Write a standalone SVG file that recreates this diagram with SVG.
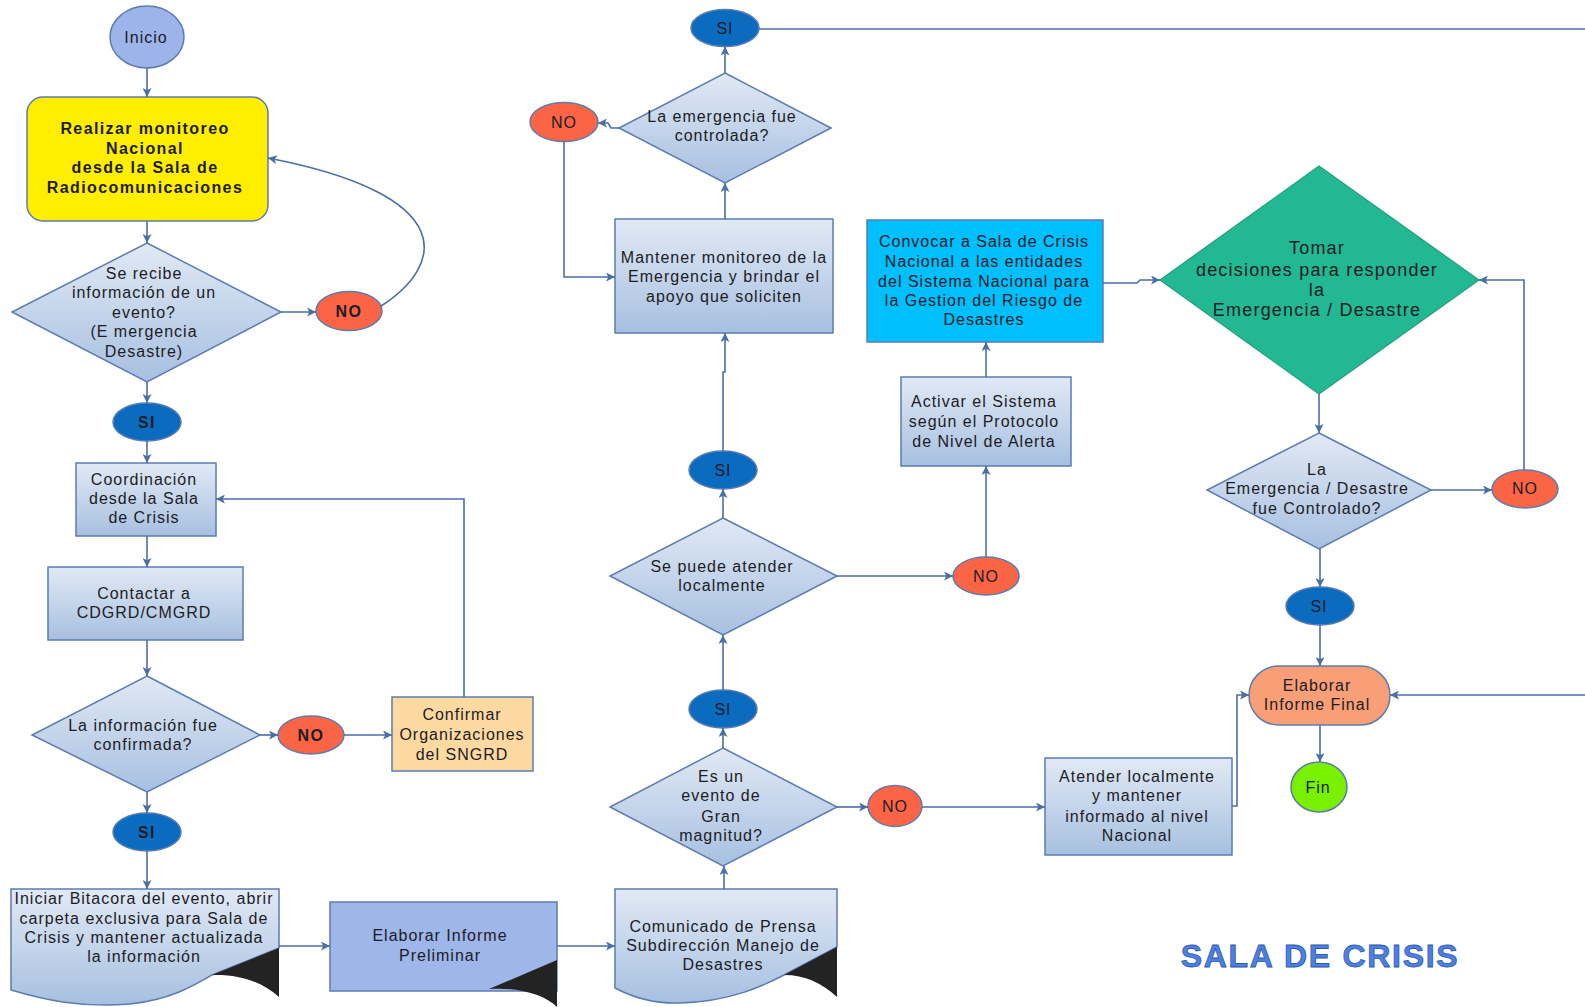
<svg xmlns="http://www.w3.org/2000/svg" width="1585" height="1007" viewBox="0 0 1585 1007">
<defs>
<linearGradient id="g" x1="0" y1="0" x2="0" y2="1">
<stop offset="0" stop-color="#e1e9f5"/>
<stop offset="1" stop-color="#a7c0e0"/>
</linearGradient>
<marker id="a" viewBox="0 0 10 10" refX="10" refY="5" markerWidth="9" markerHeight="9" markerUnits="userSpaceOnUse" orient="auto">
<path d="M0,0 L10,5 L0,10 L2.5,5 z" fill="#4a6fa6"/>
</marker>
<style>
.n{stroke:#5b7cb0;stroke-width:1.5}
.p{fill:url(#g)}
.t{font-family:"Liberation Sans",Arial,sans-serif;font-size:16px;fill:#1c1c24;text-anchor:middle;letter-spacing:1px}
.b{font-weight:bold;letter-spacing:1.4px}
.no{fill:#fc6446}
.si{fill:#0b6cbf}
.bk{fill:#232323}
.c{fill:none;stroke:#4a6fa6;stroke-width:1.6}
.ar{marker-end:url(#a)}
</style>
</defs>

<g id="inicio">
<ellipse class="n" cx="147" cy="37" rx="37" ry="31" fill="#9db4ea"/>
<text class="t" x="146" y="43">Inicio</text>
</g>

<g id="monitoreo">
<rect class="n" x="27" y="97" width="241" height="124" rx="16" fill="#ffee00"/>
<text class="t b" x="145" y="134">Realizar monitoreo</text>
<text class="t b" x="145" y="153.5">Nacional</text>
<text class="t b" x="145" y="173">desde la Sala de</text>
<text class="t b" x="145" y="192.5">Radiocomunicaciones</text>
</g>

<g id="recibe">
<polygon class="n p" points="147,243 281,312 147,382 12,312"/>
<text class="t" x="144" y="278.5">Se recibe</text>
<text class="t" x="144" y="297.5">información de un</text>
<text class="t" x="144" y="317.5">evento?</text>
<text class="t" x="144" y="337">(E mergencia</text>
<text class="t" x="144" y="356.5">Desastre)</text>
</g>

<g id="no1">
<ellipse class="n no" cx="349" cy="311" rx="33" ry="19.5"/>
<text class="t b" x="349" y="317">NO</text>
</g>

<g id="si1">
<ellipse class="n si" cx="147" cy="422" rx="34" ry="19"/>
<text class="t b" x="147" y="428">SI</text>
</g>

<g id="coordinacion">
<rect class="n p" x="76" y="463" width="140" height="73"/>
<text class="t" x="144" y="484.5">Coordinación</text>
<text class="t" x="144" y="504">desde la Sala</text>
<text class="t" x="144" y="523">de Crisis</text>
</g>

<g id="contactar">
<rect class="n p" x="48" y="567" width="195" height="73"/>
<text class="t" x="144" y="599">Contactar a</text>
<text class="t" x="144" y="617.5">CDGRD/CMGRD</text>
</g>

<g id="confirmada">
<polygon class="n p" points="147,676 260,735 147,792 32,735"/>
<text class="t" x="143" y="730.5">La información fue</text>
<text class="t" x="143" y="749.5">confirmada?</text>
</g>

<g id="no2">
<ellipse class="n no" cx="311" cy="735" rx="33" ry="19"/>
<text class="t b" x="311" y="741">NO</text>
</g>

<g id="confirmar">
<rect class="n" x="392" y="697" width="141" height="74" fill="#fdd9a2"/>
<text class="t" x="462" y="720">Confirmar</text>
<text class="t" x="462" y="740">Organizaciones</text>
<text class="t" x="462" y="759.5">del SNGRD</text>
</g>

<g id="si2">
<ellipse class="n si" cx="147" cy="832" rx="34" ry="19"/>
<text class="t b" x="147" y="838">SI</text>
</g>

<g id="bitacora">
<path class="n p" d="M11,889 H279 V948 L212,975 C195,985 170,1000 130,1004 C80,1008 45,1000 11,990 Z"/>
<path class="bk" d="M212,975 L279,948 V997 C262,982 240,974 212,975 Z"/>
<text class="t" x="144" y="904">Iniciar Bitacora del evento, abrir</text>
<text class="t" x="144" y="923.5">carpeta exclusiva para Sala de</text>
<text class="t" x="144" y="942.5">Crisis y mantener actualizada</text>
<text class="t" x="144" y="962">la información</text>
</g>

<g id="preliminar">
<rect class="n" x="330" y="902" width="227" height="89" fill="#9eb6ea"/>
<path class="bk" d="M489,989 L557,960 V1007 C545,995 520,987 489,989 Z"/>
<text class="t" x="440" y="940.5">Elaborar Informe</text>
<text class="t" x="440" y="961">Preliminar</text>
</g>

<g id="comunicado">
<path class="n p" d="M615,889 H837 V947 L784,975 C765,985 730,1002 680,1003 C650,1004 630,996 615,988 Z"/>
<path class="bk" d="M784,975 L837,947 V997 C822,983 805,975 784,975 Z"/>
<text class="t" x="723" y="931.5">Comunicado de Prensa</text>
<text class="t" x="723" y="950.5">Subdirección Manejo de</text>
<text class="t" x="723" y="970">Desastres</text>
</g>

<g id="gran">
<polygon class="n p" points="723,748 837,807 723,866 610,807"/>
<text class="t" x="721" y="781.5">Es un</text>
<text class="t" x="721" y="801">evento de</text>
<text class="t" x="721" y="821.5">Gran</text>
<text class="t" x="721" y="840.5">magnitud?</text>
</g>

<g id="no3">
<ellipse class="n no" cx="895" cy="806" rx="27" ry="20.5"/>
<text class="t" x="895" y="812">NO</text>
</g>

<g id="atender">
<rect class="n p" x="1045" y="758" width="187" height="97"/>
<text class="t" x="1137" y="781.5">Atender localmente</text>
<text class="t" x="1137" y="801">y mantener</text>
<text class="t" x="1137" y="821.5">informado al nivel</text>
<text class="t" x="1137" y="840.5">Nacional</text>
</g>

<g id="si3">
<ellipse class="n si" cx="723" cy="709" rx="34" ry="19"/>
<text class="t" x="723" y="715">SI</text>
</g>

<g id="localmente">
<polygon class="n p" points="723,518 837,576 723,635 610,576"/>
<text class="t" x="722" y="571.5">Se puede atender</text>
<text class="t" x="722" y="590.5">localmente</text>
</g>

<g id="no4">
<ellipse class="n no" cx="986" cy="576" rx="33" ry="19"/>
<text class="t" x="986" y="582">NO</text>
</g>

<g id="activar">
<rect class="n p" x="901" y="377" width="170" height="89"/>
<text class="t" x="984" y="406.5">Activar el Sistema</text>
<text class="t" x="984" y="427">según el Protocolo</text>
<text class="t" x="984" y="447">de Nivel de Alerta</text>
</g>

<g id="convocar">
<rect class="n" x="867" y="220" width="236" height="122" fill="#00bfff"/>
<text class="t" x="984" y="247">Convocar a Sala de Crisis</text>
<text class="t" x="984" y="266.5">Nacional a las entidades</text>
<text class="t" x="984" y="286.5">del Sistema Nacional para</text>
<text class="t" x="984" y="305.5">la Gestion del Riesgo de</text>
<text class="t" x="984" y="325">Desastres</text>
</g>

<g id="si4">
<ellipse class="n si" cx="723" cy="470" rx="34" ry="19"/>
<text class="t" x="723" y="476">SI</text>
</g>

<g id="mantener">
<rect class="n p" x="615" y="219" width="218" height="114"/>
<text class="t" x="724" y="262.5">Mantener monitoreo de la</text>
<text class="t" x="724" y="281.5">Emergencia y brindar el</text>
<text class="t" x="724" y="301.5">apoyo que soliciten</text>
</g>

<g id="controlada">
<polygon class="n p" points="725,73 831,128 725,183 619,128"/>
<text class="t" x="722" y="121.5">La emergencia fue</text>
<text class="t" x="722" y="141">controlada?</text>
</g>

<g id="no5">
<ellipse class="n no" cx="564" cy="122" rx="34" ry="19.5"/>
<text class="t" x="564" y="128">NO</text>
</g>

<g id="si5">
<ellipse class="n si" cx="725" cy="28" rx="34" ry="18.5"/>
<text class="t" x="725" y="34">SI</text>
</g>

<g id="decisiones">
<polygon points="1319,166 1479,280 1319,394 1160,280" fill="#21b892" stroke="#2a9d80" stroke-width="1.2"/>
<text class="t" x="1317" y="254" style="font-size:18px;letter-spacing:1.2px">Tomar</text>
<text class="t" x="1317" y="275.5" style="font-size:18px;letter-spacing:1.2px">decisiones para responder</text>
<text class="t" x="1317" y="295.5" style="font-size:18px;letter-spacing:1.2px">la</text>
<text class="t" x="1317" y="315.5" style="font-size:18px;letter-spacing:1.2px">Emergencia / Desastre</text>
</g>

<g id="controlado">
<polygon class="n p" points="1319,433 1431,490 1319,549 1207,490"/>
<text class="t" x="1317" y="474.5">La</text>
<text class="t" x="1317" y="493.5">Emergencia / Desastre</text>
<text class="t" x="1317" y="514">fue Controlado?</text>
</g>

<g id="no6">
<ellipse class="n no" cx="1525" cy="489" rx="33" ry="19"/>
<text class="t" x="1525" y="494">NO</text>
</g>

<g id="si6">
<ellipse class="n si" cx="1320" cy="606" rx="34" ry="19"/>
<text class="t" x="1319" y="612">SI</text>
</g>

<g id="informefinal">
<rect class="n" x="1249" y="666" width="141" height="59" rx="29.5" fill="#f99f78"/>
<text class="t" x="1317" y="690.5">Elaborar</text>
<text class="t" x="1317" y="710">Informe Final</text>
</g>

<g id="fin">
<ellipse class="n" cx="1319" cy="787" rx="28" ry="25" fill="#78f000"/>
<text class="t" x="1318" y="793">Fin</text>
</g>

<g id="titulo">
<text x="1320" y="967" style="font-family:'Liberation Sans',Arial,sans-serif;font-size:32px;font-weight:bold;letter-spacing:1.7px;text-anchor:middle;fill:#4d80e4;stroke:#2f5aa6;stroke-width:0.8">SALA DE CRISIS</text>
</g>

<g id="connectors">
<path class="c ar" d="M147,68 V97"/>
<path class="c ar" d="M147,221 V243"/>
<path class="c ar" d="M281,312 H316"/>
<path class="c ar" d="M381,306 C445,265 460,195 268,158"/>
<path class="c ar" d="M147,382 V403"/>
<path class="c ar" d="M147,441 V463"/>
<path class="c ar" d="M147,536 V567"/>
<path class="c ar" d="M147,640 V676"/>
<path class="c ar" d="M260,735 H278"/>
<path class="c ar" d="M344,735 H392"/>
<path class="c ar" d="M464,697 V499 H216"/>
<path class="c ar" d="M147,792 V813"/>
<path class="c ar" d="M147,851 V889"/>
<path class="c ar" d="M279,946 H330"/>
<path class="c ar" d="M557,946 H615"/>
<path class="c ar" d="M724,889 V866"/>
<path class="c ar" d="M723,748 V728"/>
<path class="c ar" d="M837,807 H868"/>
<path class="c ar" d="M922,807 H1045"/>
<path class="c ar" d="M723,690 V635"/>
<path class="c ar" d="M723,518 V489"/>
<path class="c ar" d="M837,576 H953"/>
<path class="c ar" d="M986,557 V466"/>
<path class="c ar" d="M986,377 V342"/>
<path class="c ar" d="M1103,283 H1137 L1140,280 H1160"/>
<path class="c ar" d="M723,451 V372 H725 V333"/>
<path class="c ar" d="M725,219 V183"/>
<path class="c ar" d="M725,73 V46.5"/>
<path class="c ar" d="M619,128 H611 L608,123 H598"/>
<path class="c ar" d="M564,141.5 V277 H615"/>
<path class="c" d="M759,29 H1585"/>
<path class="c ar" d="M1585,695 H1390"/>
<path class="c ar" d="M1319,394 V433"/>
<path class="c ar" d="M1431,490 H1492"/>
<path class="c ar" d="M1524,470 V280 H1479"/>
<path class="c ar" d="M1320,549 V587"/>
<path class="c ar" d="M1320,625 V666"/>
<path class="c ar" d="M1320,725 V762"/>
<path class="c ar" d="M1232,806 H1237 V695 H1249"/>
</g>
</svg>
